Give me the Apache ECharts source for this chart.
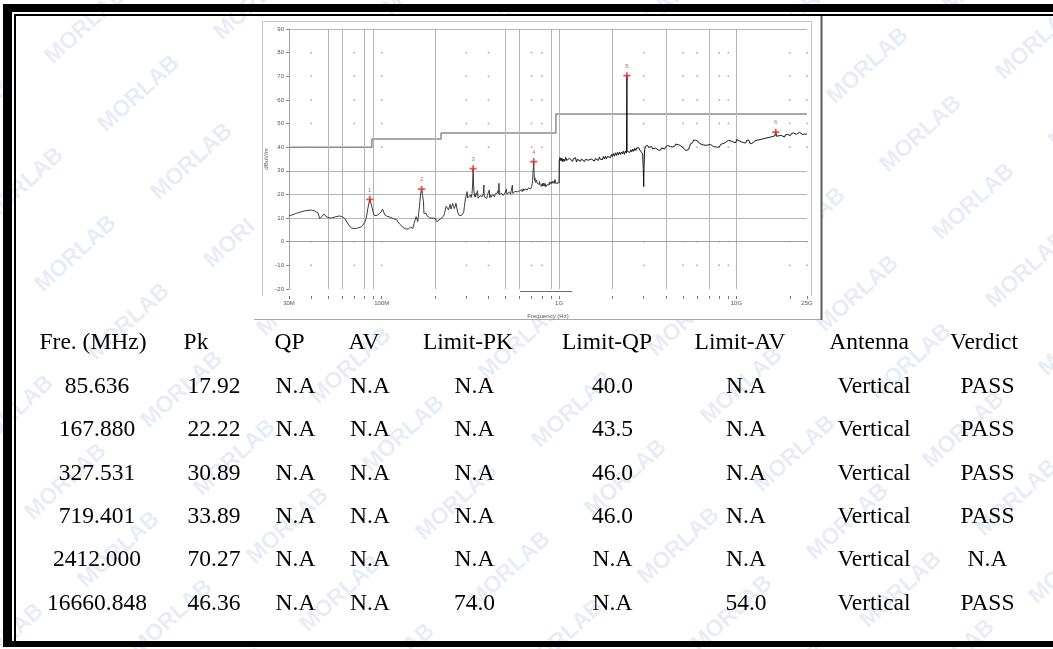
<!DOCTYPE html>
<html><head><meta charset="utf-8">
<script src="https://cdn.jsdelivr.net/npm/echarts@6/dist/echarts.min.js"></script>
<style>html,body{margin:0;padding:0;background:#fff}#c{width:1053px;height:649px}</style>
</head><body><div id="c"></div>
<script>
// ---------- DATA ----------
const peakFreqMHz = [85.636, 167.880, 327.531, 719.401, 2412.000, 16660.848];
const peakPk = [17.92, 22.22, 30.89, 33.89, 70.27, 46.36];

const tableHeaders = ['Fre. (MHz)', 'Pk', 'QP', 'AV', 'Limit-PK', 'Limit-QP', 'Limit-AV', 'Antenna', 'Verdict'];
const colFreq = ['85.636', '167.880', '327.531', '719.401', '2412.000', '16660.848'];
const colPk = ['17.92', '22.22', '30.89', '33.89', '70.27', '46.36'];
const colQP = ['N.A', 'N.A', 'N.A', 'N.A', 'N.A', 'N.A'];
const colAV = ['N.A', 'N.A', 'N.A', 'N.A', 'N.A', 'N.A'];
const colLimitPK = ['N.A', 'N.A', 'N.A', 'N.A', 'N.A', '74.0'];
const colLimitQP = ['40.0', '43.5', '46.0', '46.0', 'N.A', 'N.A'];
const colLimitAV = ['N.A', 'N.A', 'N.A', 'N.A', 'N.A', '54.0'];
const colAntenna = ['Vertical', 'Vertical', 'Vertical', 'Vertical', 'Vertical', 'Vertical'];
const colVerdict = ['PASS', 'PASS', 'PASS', 'PASS', 'N.A', 'PASS'];

const limitLine = [[30, 40], [88, 40], [88, 43.5], [216, 43.5], [216, 46], [960, 46], [960, 54], [25000, 54]];

const xLabelFreqs = [30, 100, 1000, 10000, 25000];
const xLabelTexts = ['30M', '100M', '1G', '10G', '25G'];
const xTickFreqs = [30, 40, 50, 60, 70, 80, 90, 100, 200, 300, 400, 500, 600, 700, 800, 900,
  1000, 2000, 3000, 4000, 5000, 6000, 7000, 8000, 9000, 10000, 20000, 25000];
const vGridFreqs = [50, 60, 80, 90, 200, 500, 600, 900, 1000, 2000, 4000, 7000, 10000];
const hGridLevels = [10, 20, 30, 90];
const dotFreqs = [40, 70, 100, 300, 400, 700, 800, 3000, 5000, 6000, 8000, 9000, 20000, 25000];
const dotLevels = [80, 70, 60, 50, 40, 0, -10];

// trace, 30 MHz - 1 GHz  [MHz, dBuV/m]
const traceLow = [
  [30.0, 10.9], [33.0, 12.0], [36.8, 13.1], [40.1, 13.4], [42.0, 13.0], [43.7, 12.2], [44.7, 9.8], [46.0, 10.6],
  [47.1, 11.7], [48.5, 10.8], [49.8, 10.2], [52.0, 10.0], [55.1, 10.6], [58.0, 10.9], [60.0, 10.5], [62.0, 9.8],
  [64.5, 7.5], [67.6, 5.7], [72.1, 5.6], [77.0, 6.4], [80.0, 8.0], [81.5, 9.5], [83.5, 14.0], [85.6, 17.9],
  [87.5, 15.5], [90.3, 11.3], [93.0, 11.0], [95.5, 11.5], [99.0, 12.5], [101.1, 13.8], [104.2, 11.3], [107.0, 10.8],
  [111.3, 10.4], [116.0, 9.8], [121.4, 9.3], [126.0, 7.5], [132.3, 6.0], [136.0, 5.5], [141.3, 5.3], [145.0, 6.2],
  [149.6, 5.6], [152.2, 7.8], [154.0, 9.0], [156.2, 10.6], [159.6, 8.5], [161.5, 12.0], [163.1, 14.8], [165.5, 20.0],
  [167.9, 22.2], [170.0, 19.5], [171.9, 16.9], [173.0, 12.0], [175.7, 11.5], [178.0, 12.0], [180.0, 11.0], [183.5, 11.4],
  [186.0, 10.2], [188.5, 11.0], [191.6, 10.0], [195.0, 10.6], [200.1, 9.9], [204.5, 8.5], [208.0, 9.2], [213.6, 9.6],
  [218.0, 10.2], [223.0, 10.8], [226.0, 12.0], [228.0, 13.4], [231.0, 15.0], [234.8, 15.5], [238.0, 13.5], [243.1, 15.8],
  [246.0, 13.8], [248.5, 14.8], [251.0, 16.2], [253.9, 15.2], [256.5, 14.0], [259.5, 15.0], [262.0, 16.3], [265.2, 14.2],
  [268.0, 12.5], [271.0, 11.8], [274.0, 11.0], [277.0, 10.6], [282.0, 11.2], [286.8, 10.9], [290.0, 12.5], [292.5, 15.0],
  [295.7, 17.7], [298.5, 19.0], [302.6, 21.2], [305.5, 18.5], [309.2, 19.2], [312.5, 18.2], [316.0, 19.8], [319.5, 18.7],
  [323.0, 20.5], [325.5, 24.0], [327.5, 30.9], [329.5, 24.0], [333.0, 19.1], [336.0, 20.4], [338.0, 19.0], [341.0, 18.6],
  [344.8, 19.3], [347.0, 21.6], [349.0, 18.4], [352.0, 18.9], [355.0, 18.2], [358.0, 19.4], [360.1, 18.8], [363.0, 19.9],
  [366.0, 18.6], [370.0, 19.2], [372.5, 18.4], [374.5, 20.5], [376.5, 24.0], [378.5, 19.0], [381.5, 19.7], [384.8, 18.9],
  [388.0, 19.5], [391.0, 18.3], [394.0, 19.6], [397.0, 18.9], [401.8, 19.8], [404.0, 21.9], [406.0, 18.7], [410.6, 19.8],
  [413.0, 18.8], [416.0, 19.6], [419.0, 18.9], [422.0, 19.9], [425.5, 19.1], [429.0, 20.1], [432.0, 19.0], [436.0, 20.2],
  [439.0, 19.4], [442.0, 20.3], [445.0, 19.5], [448.4, 20.6], [452.0, 21.5], [455.0, 20.4], [458.2, 24.7], [461.0, 20.0],
  [464.0, 19.6], [468.2, 20.2], [471.0, 19.5], [474.0, 20.5], [477.0, 19.7], [480.0, 20.2], [484.0, 19.6], [489.1, 20.4],
  [492.0, 19.7], [495.0, 20.6], [498.0, 19.9], [500.0, 20.8], [503.0, 20.0], [505.0, 22.3], [508.0, 20.1], [511.0, 20.7],
  [514.0, 19.9], [518.0, 20.5], [521.0, 19.9], [525.0, 21.0], [528.0, 20.2], [530.0, 20.8], [533.0, 20.1], [536.0, 21.2],
  [539.0, 20.4], [541.0, 21.0], [543.5, 20.5], [545.6, 24.0], [548.0, 20.4], [550.0, 21.1], [554.0, 20.3], [557.6, 21.0],
  [561.0, 20.5], [565.0, 21.3], [569.0, 20.6], [573.0, 21.2], [577.0, 20.5], [582.4, 21.1], [586.0, 20.7], [590.0, 21.6],
  [594.0, 20.9], [598.0, 21.5], [603.0, 20.8], [608.2, 21.6], [612.0, 21.0], [615.0, 22.1], [619.0, 21.2], [622.0, 21.9],
  [625.0, 21.2], [628.0, 22.4], [631.0, 21.5], [635.3, 22.1], [639.0, 21.4], [643.0, 22.4], [646.0, 21.6], [650.0, 22.3],
  [654.0, 21.7], [658.0, 22.7], [661.0, 21.9], [664.2, 22.5], [668.0, 21.8], [672.0, 22.8], [676.0, 22.1], [680.0, 23.0],
  [684.0, 22.2], [688.0, 22.9], [691.0, 22.3], [693.8, 23.0], [697.0, 22.5], [700.0, 23.3], [703.0, 22.8], [706.0, 24.5],
  [709.0, 26.0], [712.0, 28.5], [716.0, 31.5], [719.4, 33.9], [723.0, 29.0], [726.0, 26.8], [728.0, 25.8], [731.0, 27.0],
  [733.0, 26.0], [737.0, 25.1], [740.7, 25.8], [744.0, 24.9], [748.0, 26.0], [751.0, 24.8], [755.0, 25.6], [759.0, 24.7],
  [763.5, 25.4], [767.0, 24.4], [770.0, 25.2], [773.0, 24.2], [776.0, 25.5], [780.0, 24.3], [783.0, 24.9], [787.0, 23.6],
  [790.5, 24.2], [795.0, 23.4], [800.0, 24.5], [804.0, 23.5], [808.0, 24.6], [812.0, 23.6], [815.0, 24.8], [820.0, 23.7],
  [825.6, 24.6], [830.0, 23.5], [835.0, 24.6], [840.0, 23.2], [843.8, 24.0], [848.0, 23.1], [852.0, 24.1], [857.0, 23.3],
  [862.2, 24.2], [867.0, 23.8], [872.0, 24.9], [876.0, 24.0], [881.1, 25.2], [885.0, 24.2], [890.0, 25.0], [895.0, 24.3],
  [900.0, 25.4], [905.0, 24.5], [910.0, 25.2], [915.0, 24.4], [920.0, 25.6], [925.0, 24.7], [930.0, 25.3], [935.0, 24.6],
  [940.9, 25.8], [945.0, 24.7], [950.0, 26.3], [955.0, 24.8], [960.0, 25.6], [965.0, 24.6], [970.0, 25.3], [975.0, 24.5],
  [980.0, 25.6], [985.0, 24.7], [990.0, 25.3], [995.0, 24.6], [1000.0, 24.8]
];

// trace, 1 GHz - 25 GHz  [MHz, dBuV/m]
const traceHigh = [
  [1000, 24.8], [1003, 34.6], [1012, 35.6], [1025, 34.2], [1038, 35.4], [1050, 33.8], [1063, 35.0], [1077, 34.1], [1090, 35.7],
  [1104, 34.4], [1118, 35.1], [1132, 33.9], [1146, 35.3], [1161, 34.5], [1176, 35.8], [1191, 34.0], [1206, 35.2],
  [1222, 34.6], [1238, 35.5], [1254, 33.7], [1270, 34.9], [1286, 34.3], [1303, 35.4], [1320, 34.0], [1337, 35.0],
  [1354, 34.4], [1372, 35.6], [1390, 33.9], [1408, 34.8], [1426, 34.2], [1445, 35.3], [1464, 34.5], [1483, 35.1],
  [1502, 33.8], [1522, 35.0], [1542, 34.3], [1562, 35.4], [1582, 34.1], [1603, 35.2], [1624, 34.6], [1645, 35.5],
  [1666, 34.4], [1688, 35.8], [1710, 34.9], [1732, 35.6], [1755, 34.7], [1778, 36.0], [1801, 35.1], [1825, 36.2],
  [1849, 35.0], [1873, 36.1], [1897, 35.4], [1922, 36.6], [1947, 35.6], [1973, 36.9], [1999, 36.0], [2025, 37.3],
  [2051, 36.2], [2078, 37.6], [2105, 36.5], [2133, 37.8], [2161, 36.7], [2189, 37.9], [2218, 36.9], [2247, 38.0],
  [2276, 37.1], [2306, 38.3], [2336, 37.0], [2367, 38.4], [2398, 37.5], [2405, 38.0], [2412, 70.27], [2419, 38.2],
  [2440, 37.4], [2472, 38.6], [2504, 37.8], [2537, 38.9], [2570, 38.0], [2604, 39.2], [2638, 38.3], [2672, 39.5],
  [2707, 38.6], [2742, 39.7], [2778, 38.9], [2815, 39.8], [2852, 38.8], [2889, 39.6], [2927, 38.4], [2960, 37.2],
  [2985, 30.5], [3000, 23.3], [3012, 31.0], [3035, 38.8], [3075, 40.4], [3115, 39.7], [3156, 40.8], [3197, 39.9],
  [3239, 40.6], [3281, 39.8], [3324, 40.3], [3368, 39.3], [3412, 39.9], [3456, 39.0], [3502, 39.6], [3547, 38.9],
  [3594, 39.5], [3641, 38.7], [3688, 39.3], [3737, 38.8], [3786, 39.7], [3835, 39.0], [3885, 39.9], [3936, 39.2],
  [3988, 40.2], [4040, 39.6], [4093, 40.7], [4146, 40.0], [4200, 41.0], [4255, 40.2], [4311, 40.8], [4367, 40.1],
  [4424, 40.9], [4482, 40.4], [4541, 41.3], [4600, 40.7], [4660, 41.6], [4721, 41.0], [4783, 41.8], [4846, 40.6],
  [4909, 41.0], [4973, 40.2], [5038, 39.6], [5104, 39.1], [5171, 38.6], [5239, 38.3], [5307, 38.2], [5377, 39.0],
  [5447, 40.4], [5518, 41.5], [5590, 42.3], [5664, 41.9], [5738, 43.0], [5813, 43.8], [5889, 42.9], [5966, 43.5],
  [6044, 42.6], [6123, 42.0], [6203, 41.5], [6284, 41.8], [6367, 41.2], [6450, 41.6], [6535, 40.9], [6620, 41.5],
  [6707, 40.8], [6795, 41.4], [6884, 40.9], [6974, 41.3], [7065, 40.6], [7158, 41.1], [7251, 40.4], [7346, 40.9],
  [7442, 40.2], [7540, 40.7], [7639, 40.1], [7739, 40.6], [7840, 40.0], [7943, 40.8], [8047, 40.3], [8152, 41.2],
  [8259, 40.6], [8367, 41.5], [8477, 40.9], [8588, 41.8], [8700, 41.2], [8814, 42.4], [8930, 41.6], [9047, 42.9],
  [9165, 42.2], [9285, 43.4], [9407, 42.5], [9530, 43.0], [9655, 42.1], [9782, 42.6], [9910, 41.9], [10040, 43.2],
  [10171, 42.4], [10304, 43.8], [10439, 42.6], [10576, 43.3], [10714, 42.2], [10855, 42.9], [10997, 41.9], [11141, 42.6],
  [11287, 41.8], [11435, 42.9], [11585, 42.1], [11736, 43.0], [11890, 41.7], [12046, 42.4], [12204, 41.5], [12363, 42.3],
  [12525, 41.6], [12689, 42.6], [12855, 41.9], [13024, 42.9], [13194, 42.1], [13367, 43.1], [13542, 42.3], [13719, 43.3],
  [13899, 42.5], [14081, 43.5], [14265, 42.8], [14452, 43.7], [14641, 43.0], [14833, 43.9], [15027, 43.2], [15224, 44.1],
  [15423, 43.4], [15625, 44.3], [15830, 43.6], [16037, 44.5], [16247, 43.9], [16460, 44.8], [16661, 46.36], [16850, 44.6],
  [17050, 45.2], [17260, 44.0], [17480, 44.9], [17710, 44.1], [17940, 45.0], [18170, 44.2], [18410, 45.1], [18650, 44.3],
  [18890, 45.2], [19140, 44.5], [19390, 45.4], [19640, 44.6], [19900, 45.7], [20160, 44.9], [20420, 45.8], [20690, 45.0],
  [20960, 46.0], [21230, 45.3], [21510, 46.1], [21790, 45.4], [22080, 46.2], [22360, 45.5], [22660, 46.3], [22950, 45.6],
  [23250, 46.0], [23560, 45.4], [23870, 46.1], [24180, 45.5], [24500, 45.9], [24800, 45.3], [25000, 45.6]
];

// ---------- LAYOUT ----------
const headerX = [93, 196, 289.5, 364, 468, 607, 740, 869, 984];
const valueX = [97, 214, 295.5, 370, 474.5, 612.5, 746, 874, 987.5];
const headerY = 342.5;
const rowY = [387, 430, 473.5, 516.5, 560, 603.5];
const tableCols = [colFreq, colPk, colQP, colAV, colLimitPK, colLimitQP, colLimitAV, colAntenna, colVerdict];

const chart = echarts.init(document.getElementById('c'), null, {renderer: 'canvas', width: 1053, height: 649});

const graphics = [];
// watermark
for (let n = -12; n <= 12; n++) {
  for (let m = -8; m <= 8; m++) {
    const x = 573 + 53 * n + 169 * m, y = 410 + 68 * n - 24 * m;
    if (x < -90 || x > 1140 || y < -70 || y > 720) continue;
    graphics.push({type: 'text', x: x, y: y, rotation: 0.74, z: 0, silent: true,
      style: {text: 'MORLAB', font: 'bold 23px "Liberation Sans"', fill: '#e8ecf6', align: 'center', verticalAlign: 'middle'}});
  }
}
// chart picture panel
graphics.push({type: 'rect', z: 1, silent: true, shape: {x: 254, y: 16, width: 568, height: 304}, style: {fill: '#fff'}});
graphics.push({type: 'polyline', z: 1, silent: true, shape: {points: [[262.5, 296], [262.5, 21.5], [811.5, 21.5], [811.5, 296]]}, style: {stroke: '#c4c4c4', lineWidth: 1, fill: null}});
graphics.push({type: 'line', z: 1, silent: true, shape: {x1: 254, y1: 319.5, x2: 822, y2: 319.5}, style: {stroke: '#a8a8a8', lineWidth: 1}});
graphics.push({type: 'line', z: 1, silent: true, shape: {x1: 821.5, y1: 16, x2: 821.5, y2: 320}, style: {stroke: '#5a5a5a', lineWidth: 2}});
graphics.push({type: 'line', z: 1, silent: true, shape: {x1: 520, y1: 291.5, x2: 572, y2: 291.5}, style: {stroke: '#707070', lineWidth: 1.2}});
// page borders
graphics.push({type: 'rect', z: 10, silent: true, shape: {x: 3, y: 4, width: 1050, height: 8}, style: {fill: '#000'}});
graphics.push({type: 'rect', z: 10, silent: true, shape: {x: 3, y: 4, width: 9, height: 643}, style: {fill: '#000'}});
graphics.push({type: 'rect', z: 10, silent: true, shape: {x: 14, y: 14, width: 1039, height: 2}, style: {fill: '#000'}});
graphics.push({type: 'rect', z: 10, silent: true, shape: {x: 14, y: 14, width: 2, height: 629}, style: {fill: '#000'}});
graphics.push({type: 'rect', z: 10, silent: true, shape: {x: 3, y: 641, width: 1050, height: 6}, style: {fill: '#000'}});
// table
const tFont = '23.5px "Liberation Serif"';
tableHeaders.forEach((h, i) => {
  graphics.push({type: 'text', x: headerX[i], y: headerY, z: 3, silent: true,
    style: {text: h, font: tFont, fill: '#000', align: 'center', verticalAlign: 'middle'}});
});
tableCols.forEach((col, i) => {
  col.forEach((t, r) => {
    graphics.push({type: 'text', x: valueX[i], y: rowY[r], z: 3, silent: true,
      style: {text: t, font: tFont, fill: '#000', align: 'center', verticalAlign: 'middle'}});
  });
});

const dots = [];
dotFreqs.forEach(f => dotLevels.forEach(v => dots.push([f, v])));

const smallFont = {fontSize: 6, color: '#555', fontFamily: 'Liberation Sans'};

chart.setOption({
  animation: false,
  backgroundColor: '#fff',
  grid: {left: 289, top: 29, width: 518, height: 260, containLabel: false},
  xAxis: [{
    type: 'log', logBase: 10, min: 30, max: 25000, z: 5,
    axisLine: {show: true, lineStyle: {color: '#a0a0a0', width: 1}},
    axisTick: {show: false}, splitLine: {show: false}, minorTick: {show: false}, minorSplitLine: {show: false},
    axisLabel: Object.assign({
      customValues: xLabelFreqs, margin: 11, showMinLabel: true, showMaxLabel: true,
      formatter: v => { for (let i = 0; i < xLabelFreqs.length; i++) { if (Math.abs(Math.log10(v / xLabelFreqs[i])) < 0.01) return xLabelTexts[i]; } return ''; }
    }, smallFont),
    name: 'Frequency (Hz)', nameLocation: 'middle', nameGap: 24, nameTextStyle: smallFont
  }, {
    type: 'log', logBase: 10, min: 30, max: 25000, position: 'bottom', offset: 7, z: 5,
    axisLine: {show: false}, axisLabel: {show: false}, splitLine: {show: false},
    axisTick: {show: true, customValues: xTickFreqs, length: 3, inside: false, lineStyle: {color: '#777', width: 1}}
  }],
  yAxis: {
    type: 'value', min: -20, max: 90, interval: 10, z: 5,
    axisLine: {show: true, lineStyle: {color: '#a0a0a0', width: 1}},
    axisTick: {show: true, length: 3, lineStyle: {color: '#888'}},
    axisLabel: Object.assign({margin: 5}, smallFont),
    splitLine: {show: false},
    name: 'dBuV/m', nameLocation: 'middle', nameRotate: 90, nameGap: 20, nameTextStyle: smallFont
  },
  series: [
    {type: 'line', name: 'grid', data: [], z: 3, silent: true,
      markLine: {silent: true, symbol: ['none', 'none'], label: {show: false}, animation: false,
        lineStyle: {color: '#b4b4b4', width: 1, type: 'solid'},
        data: vGridFreqs.map(f => ({xAxis: f})).concat(hGridLevels.map(v => ({yAxis: v})))}},
    {type: 'scatter', name: 'dots', data: dots, symbol: 'rect', symbolSize: 1.5, z: 3, silent: true,
      itemStyle: {color: '#8e8e8e'}},
    {type: 'line', name: 'limit', data: limitLine, showSymbol: false, z: 4, silent: true,
      lineStyle: {color: '#8c8c8c', width: 1.5}},
    {type: 'line', name: 'traceLow', data: traceLow, showSymbol: false, z: 6, silent: true,
      lineStyle: {color: '#3c3c3c', width: 1}},
    {type: 'line', name: 'traceHigh', data: traceHigh, showSymbol: false, z: 6, silent: true,
      lineStyle: {color: '#111', width: 1}},
    {type: 'scatter', name: 'peaks', z: 8, silent: true,
      data: peakFreqMHz.map((f, i) => [f, peakPk[i]]),
      symbol: 'path://M3,0h2v3h3v2h-3v3h-2v-3h-3v-2h3z', symbolSize: 7,
      itemStyle: {color: '#e02626'},
      label: {show: true, position: 'top', distance: 3, formatter: p => String(p.dataIndex + 1),
        fontSize: 6, color: '#b04444', fontFamily: 'Liberation Sans'}}
  ],
  graphic: {elements: graphics}
});
</script>
</body></html>
